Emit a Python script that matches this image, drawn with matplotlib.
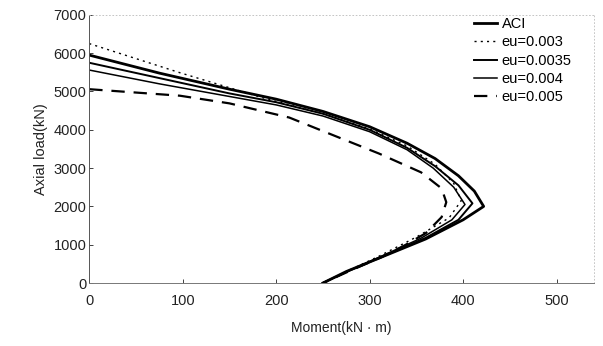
import matplotlib
matplotlib.use("Agg")
import matplotlib.pyplot as plt

plt.rcParams['font.family'] = ['Liberation Sans', 'DejaVu Sans']

# Interaction diagram data: moment (kN·m) vs axial load (kN)
aci_m = [0, 75, 150, 200, 250, 300, 340, 370, 395, 412, 422, 400, 360, 310, 275, 250]
aci_p = [5950, 5480, 5060, 4800, 4480, 4080, 3650, 3250, 2800, 2400, 2000, 1650, 1150, 650, 300, 0]

eu003_m = [0, 97, 185, 250, 300, 340, 370, 390, 398, 385, 350, 310, 275, 250]
eu003_p = [6250, 5490, 4840, 4420, 4020, 3580, 3100, 2600, 2150, 1700, 1200, 700, 300, 0]

eu0035_m = [0, 75, 150, 200, 250, 300, 340, 370, 395, 410, 395, 360, 310, 275, 250]
eu0035_p = [5750, 5350, 4950, 4720, 4420, 4000, 3530, 3050, 2550, 2080, 1650, 1180, 650, 290, 0]

eu004_m = [0, 75, 150, 200, 250, 300, 340, 368, 390, 402, 388, 355, 308, 275, 250]
eu004_p = [5560, 5200, 4870, 4650, 4360, 3950, 3480, 3000, 2500, 2050, 1650, 1170, 650, 290, 0]

eu005_m = [0, 97, 150, 214, 267, 310, 355, 377, 382, 377, 360, 338, 313, 280, 250]
eu005_p = [5060, 4890, 4690, 4320, 3800, 3380, 2890, 2470, 2110, 1720, 1300, 990, 680, 330, 0]

x_ticks = [0, 100, 200, 300, 400, 500]
y_ticks = [0, 1000, 2000, 3000, 4000, 5000, 6000, 7000]

fig = plt.figure(figsize=(6.03, 3.46), dpi=100)
ax = fig.add_axes([0.148, 0.182, 0.837, 0.775])

ax.plot(aci_m, aci_p, color='black', lw=2.0, label='ACI')
ax.plot(eu003_m, eu003_p, color='black', lw=1.0, linestyle=(0, (1.5, 3)), label='eu=0.003')
ax.plot(eu0035_m, eu0035_p, color='black', lw=1.4, label='eu=0.0035')
ax.plot(eu004_m, eu004_p, color='black', lw=1.1, label='eu=0.004')
ax.plot(eu005_m, eu005_p, color='black', lw=1.6, linestyle=(0, (6, 4)), label='eu=0.005')

ax.set_xlim(0, 540)
ax.set_ylim(0, 7000)
ax.set_xticks(x_ticks)
ax.set_yticks(y_ticks)
ax.tick_params(direction='in', length=3, width=0.6, labelsize=10.5, colors='#222222')
ax.tick_params(axis='x', pad=8)
ax.tick_params(axis='y', pad=2)

ax.set_xlabel('Moment(kN · m)', fontsize=10, color='#222222', labelpad=9)
ax.set_ylabel('Axial load(kN)', fontsize=10.5, color='#222222', labelpad=4)

ax.spines['left'].set_color('#555555')
ax.spines['left'].set_linewidth(0.7)
ax.spines['bottom'].set_color('#777777')
ax.spines['bottom'].set_linewidth(0.7)
ax.spines['bottom'].set_linestyle((0, (5, 1)))
for s in ('top', 'right'):
    ax.spines[s].set_color('#bbbbbb')
    ax.spines[s].set_linewidth(0.6)
    ax.spines[s].set_linestyle((0, (1, 3)))

leg = ax.legend(loc='upper left', bbox_to_anchor=(0.745, 1.025), frameon=False,
                fontsize=10.5, handlelength=1.6, handletextpad=0.3,
                labelspacing=0.3, borderaxespad=0.2)

fig.savefig('out.png', dpi=100)
